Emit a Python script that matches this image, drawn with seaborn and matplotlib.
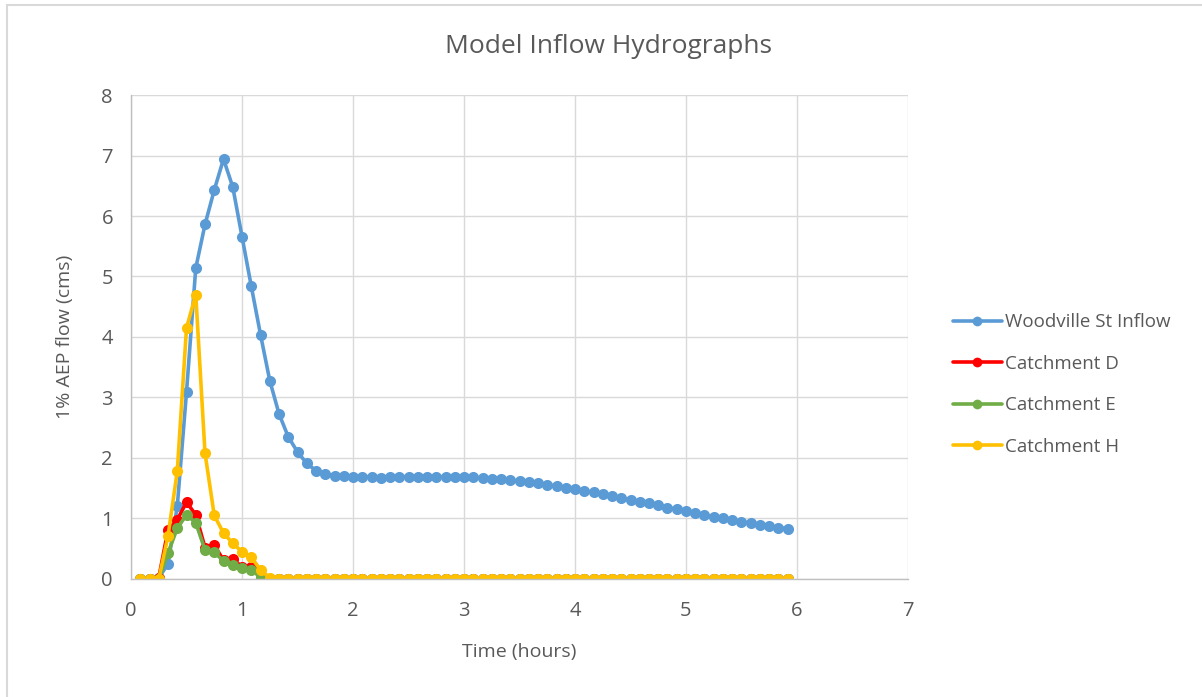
import numpy as np
import pandas as pd
import matplotlib
matplotlib.use("Agg")
import matplotlib.pyplot as plt
import seaborn as sns
from matplotlib.patches import Rectangle

# time steps every 5 minutes, 1 to 71
TIME_STEPS = list(range(1, 72))

WOODVILLE = [0, 0, 0.02, 0.25, 1.2, 3.09, 5.14, 5.86, 6.43, 6.94,
             6.48, 5.66, 4.84, 4.04, 3.28, 2.73, 2.35, 2.10, 1.91, 1.79,
             1.74, 1.71, 1.70, 1.69, 1.69, 1.69, 1.67, 1.68, 1.69, 1.69,
             1.69, 1.69, 1.69, 1.69, 1.69, 1.69, 1.68, 1.67, 1.66, 1.65,
             1.63, 1.62, 1.60, 1.58, 1.56, 1.53, 1.51, 1.48, 1.46, 1.43,
             1.40, 1.37, 1.34, 1.31, 1.28, 1.25, 1.22, 1.18, 1.15, 1.12,
             1.09, 1.06, 1.03, 1.00, 0.97, 0.95, 0.92, 0.89, 0.87, 0.85,
             0.83]

CATCH_D = [0, 0, 0.02, 0.81, 0.98, 1.27, 1.06, 0.52, 0.56, 0.31,
           0.33, 0.20, 0.20, 0.02] + [0] * 57

CATCH_E = [0, 0, 0, 0.43, 0.84, 1.06, 0.93, 0.48, 0.44, 0.30,
           0.23, 0.18, 0.15, 0.03] + [0] * 57

CATCH_H = [0, 0, 0, 0.71, 1.78, 4.15, 4.70, 2.08, 1.05, 0.76,
           0.59, 0.45, 0.36, 0.15, 0.02] + [0] * 56

SERIES = ["Woodville St Inflow", "Catchment D", "Catchment E", "Catchment H"]
COLOURS = ["#5B9BD5", "#FF0000", "#70AD47", "#FFC000"]

TEXT_GREY = "#595959"
GRID_GREY = "#D9D9D9"


def build_frame():
    hours = [i / 12 for i in TIME_STEPS]
    frames = []
    for name, vals in zip(SERIES, [WOODVILLE, CATCH_D, CATCH_E, CATCH_H]):
        frames.append(pd.DataFrame({"Time": hours, "Flow": vals, "Series": name}))
    return pd.concat(frames, ignore_index=True)


def main():
    df = build_frame()

    sns.set_style("white")
    plt.rcParams["font.family"] = ["Open Sans", "DejaVu Sans"]

    fig = plt.figure(figsize=(12.02, 6.97), dpi=100)
    ax = fig.add_axes([0.109, 0.1693, 0.6464, 0.6944])

    sns.lineplot(data=df, x="Time", y="Flow", hue="Series", hue_order=SERIES,
                 palette=COLOURS, marker="o", markersize=8, markeredgewidth=0,
                 linewidth=2.6, ax=ax)

    ax.set_xlim(0, 7)
    ax.set_ylim(0, 8)
    ax.set_xticks(range(0, 8))
    ax.set_yticks(range(0, 9))
    ax.grid(True, color=GRID_GREY, linewidth=1)
    ax.set_axisbelow(True)
    for side in ["top", "right"]:
        ax.spines[side].set_visible(False)
    for side in ["left", "bottom"]:
        ax.spines[side].set_color("#BFBFBF")
        ax.spines[side].set_linewidth(1)
    ax.tick_params(axis="x", length=0, labelsize=14.5, labelcolor=TEXT_GREY, pad=16)
    ax.tick_params(axis="y", length=0, labelsize=14.5, labelcolor=TEXT_GREY, pad=13)

    ax.set_xlabel("Time (hours)", fontsize=14, color=TEXT_GREY, labelpad=16)
    ax.set_ylabel("1% AEP flow (cms)", fontsize=14, color=TEXT_GREY, labelpad=20)
    fig.text(0.506, 0.933, "Model Inflow Hydrographs", ha="center", va="center",
             fontsize=19, color=TEXT_GREY)

    leg = ax.legend(loc="center left", bbox_to_anchor=(1.036, 0.402), frameon=False,
                    fontsize=13.5, handlelength=2.6, handletextpad=0.2,
                    labelspacing=1.25, labelcolor=TEXT_GREY)
    for line in leg.get_lines():
        line.set_linewidth(2.6)
        line.set_markersize(7)

    # outer chart border (top and left edges visible)
    fig.add_artist(Rectangle((7 / 1202, -0.1), 1.2, 1.1 - 5 / 697,
                             transform=fig.transFigure, fill=False,
                             edgecolor="#D9D9D9", linewidth=1.5))

    fig.savefig("out.png", dpi=100)
    plt.close(fig)


if __name__ == "__main__":
    main()
